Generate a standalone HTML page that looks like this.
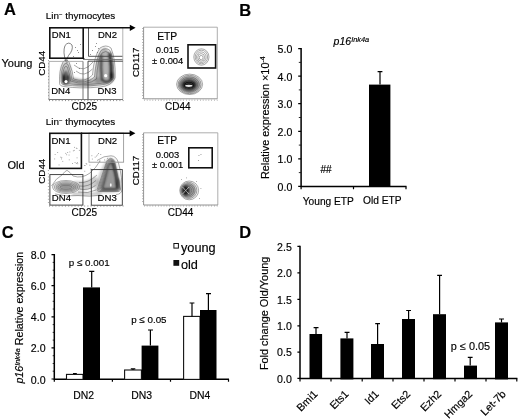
<!DOCTYPE html>
<html>
<head>
<meta charset="utf-8">
<title>Figure</title>
<style>
html,body{margin:0;padding:0;background:#fff;}
body{width:520px;height:420px;overflow:hidden;}
svg{display:block;filter:blur(0.3px);}
text{font-family:"Liberation Sans",Arial,sans-serif;fill:#000;stroke:#000;stroke-width:0.16px;}
.b{font-weight:bold;}
.i{font-style:italic;}
.ax{stroke:#000;stroke-width:1.5;fill:none;stroke-linejoin:miter;}
.tk{stroke:#000;stroke-width:1.2;fill:none;}
.mt{stroke:#111;stroke-width:0.9;fill:none;}
.bar{fill:#000;}
.wbar{fill:#fff;stroke:#111;stroke-width:1.1;}
.gt{fill:none;stroke:#111;stroke-width:1.6;}
.gn{fill:none;stroke:#666;stroke-width:0.8;}
.gd{fill:none;stroke:#333;stroke-width:0.9;}
.ct{fill:none;stroke:#555;stroke-width:0.5;}
</style>
</head>
<body>
<svg width="520" height="420" viewBox="0 0 520 420">
<defs>
<filter id="bl1" x="-20%" y="-20%" width="140%" height="140%"><feGaussianBlur stdDeviation="0.9"/></filter>
<filter id="bl2" x="-20%" y="-20%" width="140%" height="140%"><feGaussianBlur stdDeviation="0.6"/></filter>
</defs>
<rect x="0" y="0" width="520" height="420" fill="#fff"/>

<!-- ================= PANEL A ================= -->
<g id="panelA">
<text class="b" x="4" y="15.3" font-size="16.5">A</text>
<text x="45.8" y="18.600" font-size="9.900">Lin<tspan dy="-2.800" font-size="6">−</tspan><tspan dy="2.800"> thymocytes</tspan></text>
<text x="1.500" y="67.100" font-size="11">Young</text>
<text x="7.500" y="169.300" font-size="11">Old</text>
<text x="45.8" y="125.200" font-size="9.900">Lin<tspan dy="-2.800" font-size="6">−</tspan><tspan dy="2.800"> thymocytes</tspan></text>

<!-- plot 1 young DN -->
<g id="p1">
<!-- contour density -->
<g filter="url(#bl1)">
<ellipse cx="66" cy="73" rx="5.5" ry="11.5" fill="#888" opacity="0.55"/>
<ellipse cx="65.800" cy="77" rx="3.600" ry="6.500" fill="#333" opacity="0.6"/>
<ellipse cx="63.600" cy="78.500" rx="1.700" ry="4.600" fill="#000" opacity="0.9"/>
<ellipse cx="68.300" cy="79" rx="1.500" ry="4" fill="#000" opacity="0.85"/>
<path d="M63 82.500 Q66 85 69 82.500" stroke="#000" stroke-width="1.800" fill="none" opacity="0.8"/>
<path d="M94.500 80 Q95 52 104 47.500 Q113 50 114.500 78 Q112 85 104 85 Q96 85 94.500 80 Z" fill="#8a8a8a" opacity="0.65"/>
<path d="M101.200 56 Q100.600 68 101.800 79" stroke="#222" stroke-width="2.800" fill="none" opacity="0.75" stroke-linecap="round"/>
<path d="M109.800 54 Q111.800 66 111.300 79" stroke="#000" stroke-width="3.200" fill="none" opacity="0.9" stroke-linecap="round"/>
<ellipse cx="111.500" cy="75.500" rx="2.200" ry="4.500" fill="#000" opacity="0.8"/>
<path d="M102 80 Q106 83.500 111 80" stroke="#111" stroke-width="2.600" fill="none" opacity="0.8" stroke-linecap="round"/>
<path d="M68 80 Q85 85.500 100 80.500" stroke="#777" stroke-width="7.500" fill="none" opacity="0.6"/>
</g>
<g class="ct">
<path d="M59.5 83 Q59 70 63 62 Q66 58 69 62 Q73 72 73.5 79 Q85 83 92.500 75 Q94 56 100 48 Q106 44 111 48 Q116 60 115 78 Q112 86 100 87 Q80 89 64 86.500 Q59.5 86 59.5 83 Z"/>
<path d="M61 82 Q60.5 71 64 64.5 Q66 62 68 64.5 Q71.5 73 72 80 Q86 85 94.500 77 Q96 58 101 50.5 Q106 47 110 50.5 Q114.5 61 113.5 78 Q111 84 100 85 Q80 87 65 85 Q61 84.500 61 82 Z"/>
<path d="M62.3 81.5 Q62 72 64.8 67 Q66 65.5 67.2 67 Q70 74 70.5 81 Q87 86.500 96.500 79 Q97.500 60 102 53 Q106 50 109 53 Q113 62 112 78 Q110 82.5 100 83.5 Q80 85.5 66 83.500 Q62.3 83 62.3 81.500 Z"/>
<path d="M76 71 Q84 78 92.500 69"/>
<path d="M74 65 Q84 74 93 62"/>
<path d="M66 62 Q62.500 52 65 45.500 Q68.500 41 72 45 Q73.500 50 68.500 55.500 Q66 59 67 63" stroke="#333" stroke-width="0.6"/>
</g>
<circle cx="66" cy="81.6" r="1.6" fill="#fff"/>
<circle cx="105.7" cy="75.7" r="1.6" fill="#fff"/>
<!-- scatter dots -->
<g fill="#555">
<rect x="75" y="47" width="0.8" height="0.8"/><rect x="78" y="52" width="0.8" height="0.8"/><rect x="73" y="56" width="0.8" height="0.8"/>
<rect x="80" y="44" width="0.8" height="0.8"/><rect x="92" y="50" width="0.8" height="0.8"/><rect x="95" y="46" width="0.8" height="0.8"/>
<rect x="97" y="52" width="0.8" height="0.8"/><rect x="90" y="54" width="0.8" height="0.8"/><rect x="76" y="63" width="0.8" height="0.8"/>
<rect x="79" y="68" width="0.8" height="0.8"/><rect x="74" y="72" width="0.8" height="0.8"/><rect x="84" y="58" width="0.8" height="0.8"/>
<rect x="77" y="50" width="0.8" height="0.8"/><rect x="96" y="43" width="0.8" height="0.8"/><rect x="98" y="48" width="0.8" height="0.8"/>
</g>
<!-- gates -->
<path class="gn" d="M83 59.500 H123" stroke="#aaa"/>
<path d="M88.500 28 V56.300 H122.800" fill="none" stroke="#444" stroke-width="0.9"/>
<path d="M122.800 28 V99.200" fill="none" stroke="#aaa" stroke-width="0.9"/>
<path d="M83 61.400 H49 V99.400" fill="none" stroke="#999" stroke-width="0.8"/>
<path d="M83 61.400 V99.400" fill="none" stroke="#666" stroke-width="0.9"/>
<path d="M48.600 99.500 H123" fill="none" stroke="#555" stroke-width="0.8"/>
<path class="gd" d="M122.800 61.200 H88 V99.400" stroke="#555"/>
<path class="gn" d="M49 100.600 H124" stroke-dasharray="1 2.2"/>
<path class="gn" d="M48.500 60 V99" stroke-dasharray="1 2.2" opacity="0.7"/>
<rect class="gt" x="49.8" y="27.8" width="33.4" height="30.4"/>
<path class="gt" d="M83 27.8 H131"/>
<path d="M129.800 24.700 L135.600 27.800 L129.800 30.900 Z" fill="#000"/>
<text x="51.800" y="38.400" font-size="9.500">DN1</text>
<text x="98" y="38.400" font-size="9.500">DN2</text>
<text x="51.200" y="93.600" font-size="9.500">DN4</text>
<text x="97.500" y="93.600" font-size="9.500">DN3</text>
<text transform="translate(45.100 63.300) rotate(-90)" text-anchor="middle" font-size="9.800">CD44</text>
<text x="84.300" y="109.600" text-anchor="middle" font-size="10">CD25</text>
</g>
<!-- plot 2 young ETP -->
<g id="p2">
<path d="M143.600 27.200 H217.300 V98.800" fill="none" stroke="#999" stroke-width="0.8"/>
<path d="M143.600 27.200 V98.800 H217.300" fill="none" stroke="#777" stroke-width="0.8"/>
<path class="gn" d="M142.600 28 V99 M144 100.200 H218" stroke-dasharray="0.8 2" opacity="0.8"/>
<g filter="url(#bl1)">
<ellipse cx="189.500" cy="84.500" rx="11" ry="8.500" fill="#444" opacity="0.6"/>
<ellipse cx="189" cy="85" rx="7.500" ry="5.200" fill="#000" opacity="0.85"/>
</g>
<g class="ct" stroke="#333" stroke-width="0.55">
<ellipse cx="189.600" cy="84.300" rx="13" ry="10.200"/>
<ellipse cx="189.600" cy="84.500" rx="11.500" ry="9.200"/>
<ellipse cx="189.400" cy="84.600" rx="10" ry="7.800"/>
<ellipse cx="189.200" cy="84.800" rx="8.500" ry="6.500"/>
<ellipse cx="189" cy="85" rx="7" ry="5.200"/>
<ellipse cx="189" cy="85.200" rx="5.400" ry="3.900"/>
<ellipse cx="189" cy="85.400" rx="3.600" ry="2.400"/>
</g>
<ellipse cx="188.800" cy="85.800" rx="3.600" ry="1.100" fill="#e4e4e4"/>
<g class="ct" stroke="#444" stroke-width="0.5">
<ellipse cx="201.400" cy="57" rx="7.600" ry="8.200"/>
<ellipse cx="201.400" cy="57" rx="6.200" ry="6.800"/>
<ellipse cx="201.300" cy="57.200" rx="4.800" ry="5.300"/>
<ellipse cx="201.200" cy="57.400" rx="3.400" ry="3.800"/>
<ellipse cx="201.200" cy="57.600" rx="1.900" ry="2.200"/>
</g>
<rect class="gt" x="188" y="44.8" width="27.6" height="23.2"/>
<text x="157.2" y="39.700" font-size="10.300">ETP</text>
<text x="167.5" y="53.200" text-anchor="middle" font-size="9.400">0.015</text>
<text x="167.7" y="63.500" text-anchor="middle" font-size="9.400">± 0.004</text>
<text transform="translate(139 62.3) rotate(-90)" text-anchor="middle" font-size="9.700">CD117</text>
<text x="177.800" y="110" text-anchor="middle" font-size="10">CD44</text>
</g>
<!-- plot 3 old DN -->
<g id="p3">
<g filter="url(#bl1)">
<path d="M94.500 190 Q98 172 107 159 Q111 156 114.500 160 Q120.500 176 121 189 Q119 193 108 193 Q95 193.500 94.500 190 Z" fill="#9a9a9a" opacity="0.5"/>
<path d="M100 189 L109.500 162 Q111 159.500 112.500 162 L118.500 187 Q118.500 190.500 114 190.500 L102 190.500 Q99.500 190.500 100 189 Z" fill="#666" opacity="0.5"/>
<path d="M109.800 162 L102.800 187" stroke="#2a2a2a" stroke-width="2" fill="none" opacity="0.6" stroke-linecap="round"/>
<path d="M112.600 162 Q116.500 174 117.600 187" stroke="#000" stroke-width="2.800" fill="none" opacity="0.9" stroke-linecap="round"/>
<ellipse cx="117.600" cy="183.500" rx="1.900" ry="5.500" fill="#000" opacity="0.9"/>
<path d="M102.500 189 H117.500" stroke="#222" stroke-width="2" fill="none" opacity="0.75" stroke-linecap="round"/>
<ellipse cx="66" cy="187" rx="11" ry="4.500" fill="#888" opacity="0.55"/>
<ellipse cx="66" cy="187" rx="7" ry="2.200" fill="#666" opacity="0.5"/>
<path d="M74 185.500 Q88 187.500 98 179.500" stroke="#999" stroke-width="9" fill="none" opacity="0.5"/>
<path d="M72 193.800 H101" stroke="#888" stroke-width="1.800" fill="none" opacity="0.7"/>
</g>
<g class="ct" stroke="#333" stroke-width="0.6">
<path d="M97.7 188.0 Q95.9 191.5 99.5 191.5 L117.8 191.5 Q121.4 191.5 120.2 187.5 L114.7 161.5 Q111.0 155.0 106.6 161.5 Z"/>
<path d="M98.9 187.5 Q97.1 191.0 100.7 191.0 L117.2 191.0 Q120.8 191.0 119.6 187.0 L114.4 162.5 Q111.0 156.0 106.9 162.5 Z"/>
<path d="M100.1 186.9 Q98.3 190.4 101.9 190.4 L116.6 190.4 Q120.2 190.4 119.0 186.4 L114.2 163.5 Q111.0 157.0 107.3 163.5 Z"/>
<path d="M101.3 186.4 Q99.5 189.9 103.1 189.9 L116.0 189.9 Q119.6 189.9 118.4 185.9 L113.9 164.6 Q111.0 158.1 107.6 164.6 Z"/>
<path d="M102.5 185.8 Q100.7 189.3 104.3 189.3 L115.4 189.3 Q119.0 189.3 117.8 185.3 L113.7 165.6 Q111.0 159.1 108.0 165.6 Z"/>
<path d="M103.7 185.3 Q101.9 188.8 105.5 188.8 L114.8 188.8 Q118.4 188.8 117.2 184.8 L113.4 166.6 Q111.0 160.1 108.3 166.6 Z"/>
<path d="M97 160.500 Q104 155.500 111 155.800 Q116.500 156 118.500 163 Q122.500 178 122 190 Q121 194.500 116 194.500"/>
<ellipse cx="66" cy="187" rx="13.500" ry="6.500"/>
<ellipse cx="66" cy="187" rx="11.800" ry="5.300"/>
<ellipse cx="66" cy="187.100" rx="10" ry="4.200"/>
<ellipse cx="66" cy="187.200" rx="8.200" ry="3.100"/>
<ellipse cx="66" cy="187.300" rx="6" ry="2"/>
<path d="M51.500 186 Q56 178 62 175 Q65 171 67 170.300 Q70 172 73 176 Q82 179 90 173 Q96 168 100 161"/>
<path d="M55 194 Q66 197 78 195.500 Q90 197 100 195.200"/>
<path d="M79 182.500 Q88 183.500 97 175"/>
<path d="M79.500 186 Q88 187.500 96 180.500"/>
<path d="M79.500 189 Q88 191 95.500 185.500"/>
<path d="M78 192 Q88 194 96 190"/>
</g>
<ellipse cx="110.800" cy="185" rx="0.900" ry="1.800" fill="#f4f4f4"/>
<g fill="#9a9a9a"><rect x="54.7" y="154.0" width="0.9" height="0.9"/><rect x="76.9" y="162.0" width="0.9" height="0.9"/><rect x="72.9" y="150.4" width="0.9" height="0.9"/><rect x="58.6" y="164.5" width="0.9" height="0.9"/><rect x="74.6" y="162.1" width="0.9" height="0.9"/><rect x="73.8" y="149.9" width="0.9" height="0.9"/><rect x="61.1" y="158.5" width="0.9" height="0.9"/><rect x="72.0" y="163.1" width="0.9" height="0.9"/><rect x="75.9" y="147.7" width="0.9" height="0.9"/><rect x="68.8" y="159.4" width="0.9" height="0.9"/><rect x="77.3" y="163.3" width="0.9" height="0.9"/><rect x="67.2" y="152.0" width="0.9" height="0.9"/><rect x="76.6" y="157.4" width="0.9" height="0.9"/><rect x="75.9" y="163.0" width="0.9" height="0.9"/><rect x="66.2" y="154.3" width="0.9" height="0.9"/><rect x="68.6" y="154.6" width="0.9" height="0.9"/><rect x="57.2" y="152.1" width="0.9" height="0.9"/><rect x="74.1" y="146.9" width="0.9" height="0.9"/><rect x="54.2" y="158.5" width="0.9" height="0.9"/><rect x="60.3" y="156.7" width="0.9" height="0.9"/><rect x="65.3" y="152.9" width="0.9" height="0.9"/><rect x="78.9" y="149.9" width="0.9" height="0.9"/><rect x="69.4" y="151.5" width="0.9" height="0.9"/><rect x="62.3" y="160.9" width="0.9" height="0.9"/><rect x="61.3" y="157.2" width="0.9" height="0.9"/><rect x="76.5" y="148.0" width="0.9" height="0.9"/><rect x="107.1" y="157.9" width="0.9" height="0.9"/><rect x="96.0" y="155.6" width="0.9" height="0.9"/><rect x="94.7" y="156.7" width="0.9" height="0.9"/><rect x="91.9" y="158.6" width="0.9" height="0.9"/><rect x="109.8" y="160.6" width="0.9" height="0.9"/><rect x="106.4" y="160.7" width="0.9" height="0.9"/><rect x="91.4" y="155.3" width="0.9" height="0.9"/><rect x="111.3" y="159.2" width="0.9" height="0.9"/><rect x="99.6" y="160.5" width="0.9" height="0.9"/><rect x="104.0" y="159.5" width="0.9" height="0.9"/><rect x="97.2" y="154.5" width="0.9" height="0.9"/><rect x="100.3" y="154.1" width="0.9" height="0.9"/><rect x="99.0" y="160.7" width="0.9" height="0.9"/><rect x="98.0" y="153.1" width="0.9" height="0.9"/><rect x="84.4" y="165.1" width="0.9" height="0.9"/><rect x="90.3" y="168.5" width="0.9" height="0.9"/><rect x="86.3" y="163.7" width="0.9" height="0.9"/><rect x="91.9" y="169.6" width="0.9" height="0.9"/><rect x="85.7" y="163.1" width="0.9" height="0.9"/><rect x="84.4" y="165.0" width="0.9" height="0.9"/><rect x="89.4" y="164.7" width="0.9" height="0.9"/><rect x="84.3" y="170.8" width="0.9" height="0.9"/></g>
<rect x="89" y="133.200" width="34.600" height="29" fill="none" stroke="#999" stroke-width="0.9"/>
<rect class="gd" x="49.900" y="174.600" width="33" height="30.500"/>
<rect class="gd" x="91.300" y="169.600" width="31" height="35.600" stroke="#555"/>
<path class="gn" d="M49 206 H124" stroke-dasharray="1 2.2"/>
<path class="gn" d="M48.400 170 V205" stroke-dasharray="1 2.2" opacity="0.7"/>
<rect class="gt" x="49.800" y="133.300" width="31.600" height="35.100"/>
<path class="gt" d="M81 133.300 H131"/>
<path d="M129.600 130.200 L135.400 133.300 L129.600 136.400 Z" fill="#000"/>
<text x="51.400" y="144.200" font-size="9.600">DN1</text>
<text x="98" y="144.200" font-size="9.600">DN2</text>
<text x="51.800" y="201.100" font-size="9.600">DN4</text>
<text x="97.600" y="201.100" font-size="9.600">DN3</text>
<text transform="translate(45.100 171.200) rotate(-90)" text-anchor="middle" font-size="9.800">CD44</text>
<text x="84.300" y="216.200" text-anchor="middle" font-size="10">CD25</text>
</g>
<!-- plot 4 old ETP -->
<g id="p4">
<path d="M143.600 132.800 H217.800 V205" fill="none" stroke="#999" stroke-width="0.8"/>
<path d="M143.600 132.800 V205 H217.800" fill="none" stroke="#777" stroke-width="0.8"/>
<path class="gn" d="M142.600 134 V204 M144 206 H218" stroke-dasharray="0.8 2" opacity="0.8"/>
<g filter="url(#bl1)">
<ellipse cx="188.500" cy="190.400" rx="7.500" ry="7.500" fill="#555" opacity="0.6"/>
<ellipse cx="185.500" cy="190.400" rx="3.800" ry="5.500" fill="#000" opacity="0.9"/>
</g>
<g class="ct" stroke="#333" stroke-width="0.55">
<ellipse cx="189.200" cy="190.400" rx="9.400" ry="9.400"/>
<ellipse cx="188.800" cy="190.400" rx="8.100" ry="8.100"/>
<ellipse cx="188.400" cy="190.400" rx="6.800" ry="6.800"/>
<ellipse cx="188" cy="190.400" rx="5.500" ry="5.500"/>
<ellipse cx="187.500" cy="190.400" rx="4.200" ry="4.200"/>
<ellipse cx="187" cy="190.400" rx="2.800" ry="2.800"/>
</g>
<path d="M182.500 187 L189 194 M182.500 194 L189 187" stroke="#ddd" stroke-width="0.7" fill="none"/>
<g fill="#888">
<rect x="198.500" y="155" width="0.9" height="0.9"/><rect x="200.500" y="154" width="0.9" height="0.9"/><rect x="198" y="160" width="0.9" height="0.9"/>
<rect x="181" y="179" width="0.8" height="0.8"/><rect x="199" y="198" width="0.8" height="0.8"/><rect x="200.500" y="188" width="0.8" height="0.8"/>
<rect x="186" y="177.500" width="0.8" height="0.8"/><rect x="196" y="181" width="0.8" height="0.8"/>
</g>
<rect class="gt" x="188.800" y="147.8" width="23.400" height="20"/>
<text x="157.2" y="144.200" font-size="10.300">ETP</text>
<text x="167.5" y="157.600" text-anchor="middle" font-size="9.400">0.003</text>
<text x="167.7" y="167.900" text-anchor="middle" font-size="9.400">± 0.001</text>
<text transform="translate(139 170.500) rotate(-90)" text-anchor="middle" font-size="9.700">CD117</text>
<text x="180.600" y="216.300" text-anchor="middle" font-size="10">CD44</text>
</g>
</g>

<!-- ================= PANEL B ================= -->
<g id="panelB">
<text class="b" x="239.3" y="15.8" font-size="16.5">B</text>
<text class="i" x="333.600" y="44.800" font-size="10.500">p16<tspan dy="-2.700" font-size="7.400">Ink4a</tspan></text>
<path class="ax" d="M301.100 48 V186.400 H406.500"/>
<path class="tk" d="M298.200 48.600 H301.100 M298.200 76.200 H301.100 M298.200 103.700 H301.100 M298.200 131.300 H301.100 M298.200 158.800 H301.100 M298.200 186.400 H301.100 M301.100 186.400 V189.200 M353.500 186.400 V189.200 M406 186.400 V189.200"/>
<path class="mt" d="M298.800 62.400 H301.100 M298.800 89.900 H301.100 M298.800 117.500 H301.100 M298.800 145.100 H301.100 M298.800 172.600 H301.100"/>
<g font-size="10.6" text-anchor="end">
<text x="292.3" y="53.100">5.0</text>
<text x="292.3" y="80.600">4.0</text>
<text x="292.3" y="108.100">3.0</text>
<text x="292.3" y="135.700">2.0</text>
<text x="292.3" y="163.200">1.0</text>
<text x="292.3" y="190.900">0.0</text>
</g>
<rect class="bar" x="369" y="84.6" width="21.4" height="102.300"/>
<path class="tk" d="M380 84.6 V71.6 M377.6 71.6 H382.4"/>
<text x="320.4" y="173.2" font-size="10">##</text>
<text x="328.3" y="204.600" text-anchor="middle" font-size="10.2">Young ETP</text>
<text x="382.3" y="204.400" text-anchor="middle" font-size="10.2">Old ETP</text>
<text transform="translate(268.7 117.8) rotate(-90)" text-anchor="middle" font-size="10.9">Relative expression ×10<tspan dy="-3.5" font-size="6.8">-4</tspan></text>
</g>

<!-- ================= PANEL C ================= -->
<g id="panelC">
<text class="b" x="1.8" y="238" font-size="16.5">C</text>
<path class="ax" d="M54.3 254 V379.2 H229"/>
<path class="tk" d="M51.5 254.6 H54.3 M51.5 285.7 H54.3 M51.5 316.8 H54.3 M51.5 347.9 H54.3 M51.5 379 H54.3 M54.3 379 V381.8 M112.4 379 V381.8 M170.5 379 V381.8 M228.5 379 V381.8"/>
<path class="mt" d="M52.7 262.4 H54.3 M52.7 270.2 H54.3 M52.7 277.9 H54.3 M52.7 293.5 H54.3 M52.7 301.3 H54.3 M52.7 309 H54.3 M52.7 324.6 H54.3 M52.7 332.4 H54.3 M52.7 340.1 H54.3 M52.7 355.7 H54.3 M52.7 363.5 H54.3 M52.7 371.2 H54.3"/>
<g font-size="10.6" text-anchor="end">
<text x="45.6" y="259">8.0</text>
<text x="45.6" y="290.2">6.0</text>
<text x="45.6" y="321.3">4.0</text>
<text x="45.6" y="352.4">2.0</text>
<text x="45.6" y="383.6">0.0</text>
</g>
<!-- DN2 -->
<rect class="wbar" x="66.5" y="374.4" width="16.5" height="5"/>
<path class="tk" d="M74.800 374.400 V373.500 M73 373.500 H76.800" stroke-width="0.9"/>
<rect class="bar" x="83" y="287.4" width="17" height="92"/>
<path class="tk" d="M91.7 287.4 V271.4 M89.2 271.4 H94.3"/>
<!-- DN3 -->
<rect class="wbar" x="124.6" y="370" width="16.8" height="9.4"/>
<path class="tk" d="M133 370 V368.8 M130.8 368.8 H135.3"/>
<rect class="bar" x="141.6" y="345.6" width="16.8" height="34"/>
<path class="tk" d="M150.4 345.6 V330 M148 330 H153"/>
<!-- DN4 -->
<rect class="wbar" x="183.6" y="316.4" width="16.4" height="63"/>
<path class="tk" d="M192 316.4 V303 M189.6 303 H194.4"/>
<rect class="bar" x="200" y="310" width="16.5" height="69.6"/>
<path class="tk" d="M208.4 310 V293.6 M206 293.6 H211"/>
<text x="68.8" y="266" font-size="9.8">p ≤ 0.001</text>
<text x="131.2" y="323.3" font-size="9.8">p ≤ 0.05</text>
<rect x="173.9" y="243.5" width="4.5" height="4.6" fill="#fff" stroke="#111" stroke-width="1"/>
<text x="181" y="252.4" font-size="12.7">young</text>
<rect x="173.4" y="260" width="5.8" height="5.8" fill="#111"/>
<text x="181" y="269" font-size="12.7">old</text>
<g font-size="10.4" text-anchor="middle">
<text x="83.7" y="398.5">DN2</text>
<text x="141.6" y="398.5">DN3</text>
<text x="200" y="398.5">DN4</text>
</g>
<text transform="translate(22.900 383.600) rotate(-90)" font-size="10.700"><tspan class="i">p16</tspan><tspan class="i" dy="-3.200" font-size="7.200">Ink4a</tspan><tspan dy="3.200"> Relative expression</tspan></text>
</g>

<!-- ================= PANEL D ================= -->
<g id="panelD">
<text class="b" x="239.3" y="238.2" font-size="16.5">D</text>
<path class="ax" d="M300 245.8 V378.400 H517.400"/>
<path class="tk" d="M297.4 246.4 H300 M297.4 272.9 H300 M297.4 299.4 H300 M297.4 325.8 H300 M297.4 352.2 H300 M297.4 378.400 H300 M300 378.400 V381.5 M331 378.400 V381.5 M362.2 378.400 V381.5 M393 378.400 V381.5 M424 378.400 V381.5 M455 378.400 V381.5 M486 378.400 V381.5 M516.800 378.400 V381.5"/>
<g font-size="10.6" text-anchor="end">
<text x="291.8" y="250.6">2.5</text>
<text x="291.8" y="277">2.0</text>
<text x="291.8" y="303.5">1.5</text>
<text x="291.8" y="329.8">1.0</text>
<text x="291.8" y="356.3">0.5</text>
<text x="291.8" y="382.6">0.0</text>
</g>
<rect class="bar" x="309.500" y="334" width="12.600" height="45"/>
<path class="tk" d="M316 334 V327.6 M313.6 327.6 H318.5"/>
<rect class="bar" x="340.4" y="338.4" width="13" height="41"/>
<path class="tk" d="M347 338.4 V332.4 M344.6 332.4 H349.5"/>
<rect class="bar" x="371" y="344" width="13" height="35"/>
<path class="tk" d="M377.6 344 V323.6 M375.2 323.6 H380"/>
<rect class="bar" x="402" y="319" width="13" height="60"/>
<path class="tk" d="M408.6 319 V310.5 M406.2 310.5 H411"/>
<rect class="bar" x="433" y="314.2" width="13" height="65"/>
<path class="tk" d="M439.6 314.2 V275.4 M437.2 275.4 H442"/>
<rect class="bar" x="464" y="365.6" width="13" height="13.5"/>
<path class="tk" d="M470.200 365.6 V357.4 M467.800 357.4 H472.600"/>
<rect class="bar" x="495" y="322.4" width="13" height="57"/>
<path class="tk" d="M501.5 322.4 V319 M499 319 H504"/>
<text x="450.800" y="349.900" font-size="10.900">p ≤ 0.05</text>
<g font-size="10.700" text-anchor="end">
<text transform="translate(318.3 394.700) rotate(-45)">Bmi1</text>
<text transform="translate(349.3 394.700) rotate(-45)">Ets1</text>
<text transform="translate(379.5 394.700) rotate(-45)">Id1</text>
<text transform="translate(411 394.700) rotate(-45)">Ets2</text>
<text transform="translate(442 394.700) rotate(-45)">Ezh2</text>
<text transform="translate(473 394.700) rotate(-45)">Hmga2</text>
<text transform="translate(506.5 394.700) rotate(-45)">Let-7b</text>
</g>
<text transform="translate(267.7 313.4) rotate(-90)" text-anchor="middle" font-size="10.9">Fold change Old/Young</text>
</g>
</svg>
</body>
</html>
